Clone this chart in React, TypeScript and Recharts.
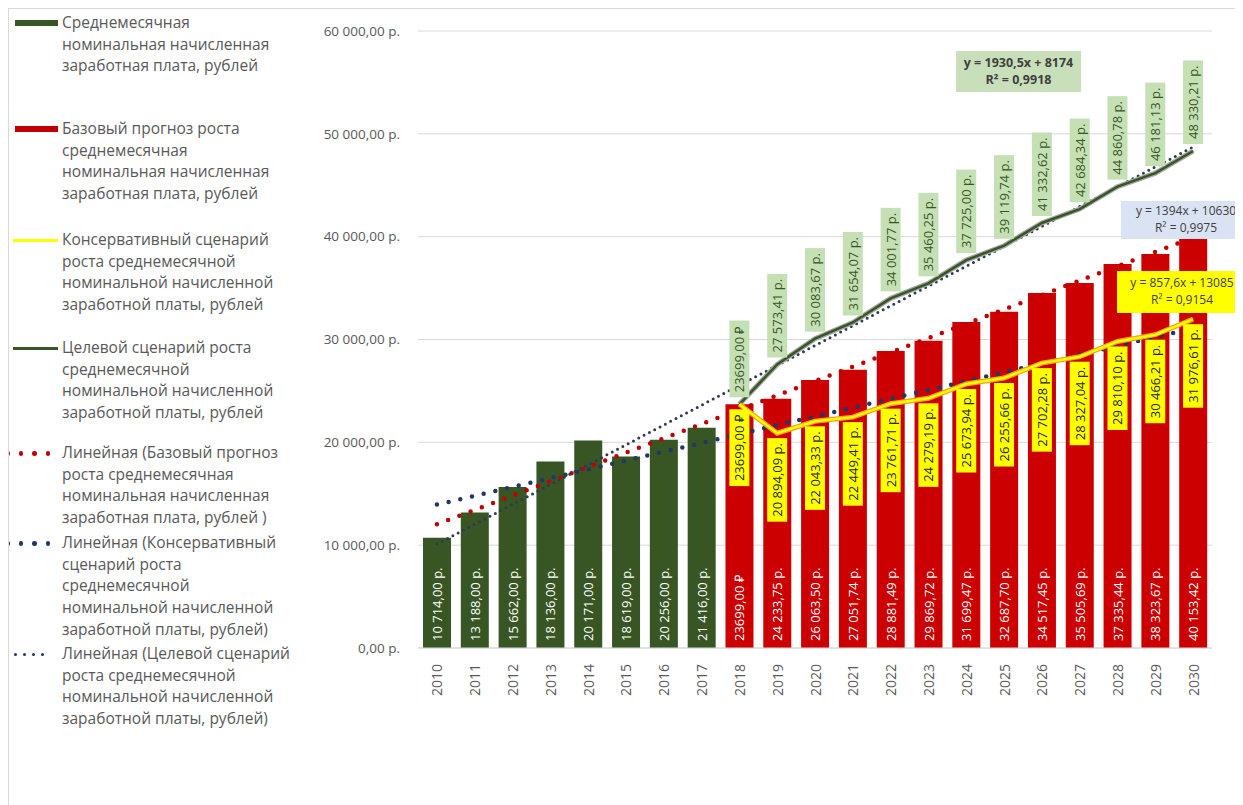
import { ComposedChart, Bar, Line, XAxis, YAxis, CartesianGrid, LabelList } from 'recharts';

const years = [
  '2010', '2011', '2012', '2013', '2014', '2015', '2016', '2017', '2018', '2019',
  '2020', '2021', '2022', '2023', '2024', '2025', '2026', '2027', '2028', '2029', '2030',
];

// 2010-2017, факт
const actualSalary = [10714, 13188, 15662, 18136, 20171, 18619, 20256, 21416];

// 2018-2030, прогнозы
const baseForecast = [
  23699, 24233.75, 26063.5, 27051.74, 28881.49, 29869.72, 31699.47,
  32687.7, 34517.45, 35505.69, 37335.44, 38323.67, 40153.42,
];
const conservativeScenario = [
  23699, 20894.09, 22043.33, 22449.41, 23761.71, 24279.19, 25673.94,
  26255.66, 27702.28, 28327.04, 29810.1, 30466.21, 31976.61,
];
const targetScenario = [
  23699, 27573.41, 30083.67, 31654.07, 34001.77, 35460.25, 37725.0,
  39119.74, 41332.62, 42684.34, 44860.78, 46181.13, 48330.21,
];

const yTicks = [0, 10000, 20000, 30000, 40000, 50000, 60000];

// коэффициенты линейных трендов (как подписаны на графике), x = 1..21
const baseTrend = { slope: 1394, intercept: 10630 };
const conservativeTrend = { slope: 857.6, intercept: 13085 };
const targetTrend = { slope: 1930.5, intercept: 8174 };

const FONT = '"Open Sans", sans-serif';
const GRAY = '#595959';
const firstForecast = actualSalary.length;

const trendAt = (t: { slope: number; intercept: number }, i: number) =>
  i === 0 || i === years.length - 1 ? t.slope * (i + 1) + t.intercept : null;

const data = years.map((year, i) => ({
  year,
  actual: i < firstForecast ? actualSalary[i] : null,
  base: i >= firstForecast ? baseForecast[i - firstForecast] : null,
  conservative: i >= firstForecast ? conservativeScenario[i - firstForecast] : null,
  target: i >= firstForecast ? targetScenario[i - firstForecast] : null,
  trendBase: trendAt(baseTrend, i),
  trendConservative: trendAt(conservativeTrend, i),
  trendTarget: trendAt(targetTrend, i),
}));

function rub(v: number): string {
  if (v === baseForecast[0]) return v.toFixed(2).replace('.', ',') + ' ₽';
  const [int, dec] = v.toFixed(2).split('.');
  return int.replace(/\B(?=(\d{3})+(?!\d))/g, ' ') + ',' + dec + ' р.';
}

let measureCtx: CanvasRenderingContext2D | null = null;
function textWidth(s: string, size: number): number {
  if (!measureCtx) measureCtx = document.createElement('canvas').getContext('2d');
  if (!measureCtx) return s.length * size * 0.55;
  measureCtx.font = `${size}px ${FONT}`;
  return measureCtx.measureText(s).width;
}

const BarValue = (props: any) => {
  const { x, y, width, height, value } = props;
  if (value == null || !height) return null;
  const cx = x + width / 2;
  const by = y + height - 7;
  return (
    <text x={cx} y={by} transform={`rotate(-90 ${cx} ${by})`} textAnchor="start"
      dominantBaseline="central" fill="#ffffff" fontSize={13} fontFamily={FONT}>
      {rub(value)}
    </text>
  );
};

const BoxValue = (fill: string, color: string, above: boolean) => (props: any) => {
  const { x, y, value } = props;
  if (value == null) return null;
  const s = rub(value);
  const h = textWidth(s, 13) + 10;
  const w = 20;
  const top = above ? y - 7 - h : y + 5;
  const cy = top + h / 2;
  return (
    <g>
      <rect x={x - w / 2} y={top} width={w} height={h} fill={fill} />
      <text x={x} y={cy} transform={`rotate(-90 ${x} ${cy})`} textAnchor="middle"
        dominantBaseline="central" fill={color} fontSize={13} fontFamily={FONT}>
        {s}
      </text>
    </g>
  );
};

const YearTick = (props: any) => {
  const { x, y, payload } = props;
  const ty = y + 14;
  return (
    <text x={x} y={ty} transform={`rotate(-90 ${x} ${ty})`} textAnchor="end"
      dominantBaseline="central" fill={GRAY} fontSize={14} fontFamily={FONT}>
      {payload.value}
    </text>
  );
};

const legendItems = [
  { top: 23, kind: 'rect', color: '#375623', lines: ['Среднемесячная', 'номинальная начисленная', 'заработная плата, рублей'] },
  { top: 129, kind: 'rect', color: '#C00000', lines: ['Базовый прогноз роста', 'среднемесячная', 'номинальная начисленная', 'заработная плата, рублей'] },
  { top: 240, kind: 'line', color: '#FFFF00', lines: ['Консервативный сценарий', 'роста среднемесячной', 'номинальной начисленной', 'заработной платы, рублей'] },
  { top: 348, kind: 'line', color: '#375623', lines: ['Целевой сценарий роста', 'среднемесячной', 'номинальной начисленной', 'заработной платы, рублей'] },
  { top: 453, kind: 'dots', color: '#C00000', lines: ['Линейная (Базовый прогноз', 'роста среднемесячная', 'номинальная начисленная', 'заработная плата, рублей )'] },
  { top: 543, kind: 'dots', color: '#1F3864', lines: ['Линейная (Консервативный', 'сценарий роста', 'среднемесячной', 'номинальной начисленной', 'заработной платы, рублей)'] },
  { top: 654, kind: 'smalldots', color: '#1F3864', lines: ['Линейная (Целевой сценарий', 'роста среднемесячной', 'номинальной начисленной', 'заработной платы, рублей)'] },
];

const LINE_H = 21.6;

function LegendMarker({ kind, color }: { kind: string; color: string }) {
  if (kind === 'rect') return <div style={{ position: 'absolute', left: 6, top: -3, width: 43, height: 6, background: color }} />;
  if (kind === 'line') return <div style={{ position: 'absolute', left: 4, top: -1.5, width: 45, height: 3, background: color }} />;
  const small = kind === 'smalldots';
  const n = small ? 5 : 4;
  return (
    <div style={{ position: 'absolute', left: -4, top: small ? -1.5 : -2, display: 'flex', gap: small ? 6 : 9 }}>
      {Array.from({ length: n }, (_, k) => (
        <span key={k} style={{ width: small ? 3 : 4.5, height: small ? 3 : 4.5, borderRadius: '50%', background: color, display: 'block' }} />
      ))}
    </div>
  );
}

const eqStyle = {
  position: 'absolute' as const,
  fontFamily: FONT,
  fontSize: 12,
  lineHeight: '17px',
  color: '#404040',
  textAlign: 'center' as const,
  boxSizing: 'border-box' as const,
  paddingTop: 3,
};

export default function App() {
  return (
    <div style={{ position: 'relative', width: 1231, height: 800, border: '1px solid #D9D9D9', boxSizing: 'border-box', overflow: 'hidden', background: '#fff' }}>
      <ComposedChart width={1229} height={798} data={data} margin={{ top: 22, right: 26, bottom: 99, left: 319 }}>
        <CartesianGrid vertical={false} stroke="#D9D9D9" />
        <XAxis dataKey="year" height={60} tick={<YearTick />} tickLine={false} tickSize={0} axisLine={{ stroke: '#D9D9D9' }} interval={0} />
        <YAxis width={90} domain={[0, 60000]} ticks={yTicks} tickLine={false} axisLine={false} tickSize={0} tickMargin={18}
          tickFormatter={(v: number) => (v === 0 ? '0,00 р.' : rub(v))}
          tick={{ fill: GRAY, fontSize: 13.5, fontFamily: FONT }} />
        <Bar dataKey="actual" stackId="s" fill="#375623" barSize={28} isAnimationActive={false}>
          <LabelList dataKey="actual" content={BarValue} />
        </Bar>
        <Bar dataKey="base" stackId="s" fill="#CC0000" barSize={28} isAnimationActive={false}>
          <LabelList dataKey="base" content={BarValue} />
        </Bar>
        <Line dataKey="trendBase" connectNulls stroke="#C00000" strokeWidth={4.5} strokeLinecap="round" strokeDasharray="0 12" dot={false} activeDot={false} isAnimationActive={false} />
        <Line dataKey="trendConservative" connectNulls stroke="#1F3864" strokeWidth={4.5} strokeLinecap="round" strokeDasharray="0 12" dot={false} activeDot={false} isAnimationActive={false} />
        <Line dataKey="trendTarget" connectNulls stroke="#2F3B52" strokeWidth={3} strokeLinecap="round" strokeDasharray="0 6" dot={false} activeDot={false} isAnimationActive={false} />
        <Line dataKey="target" stroke="#A6A6A6" strokeWidth={5} dot={false} activeDot={false} isAnimationActive={false} />
        <Line dataKey="target" stroke="#375623" strokeWidth={2.5} dot={false} activeDot={false} isAnimationActive={false}>
          <LabelList dataKey="target" content={BoxValue('#C5E0B4', '#375623', true)} />
        </Line>
        <Line dataKey="conservative" stroke="#F4A21E" strokeWidth={5} dot={false} activeDot={false} isAnimationActive={false} />
        <Line dataKey="conservative" stroke="#FFFF00" strokeWidth={2.5} dot={false} activeDot={false} isAnimationActive={false}>
          <LabelList dataKey="conservative" content={BoxValue('#FFFF00', '#262626', false)} />
        </Line>
      </ComposedChart>

      {legendItems.map((item, i) => (
        <div key={i} style={{ position: 'absolute', left: 0, top: item.top - 9 }}>
          <LegendMarker kind={item.kind} color={item.color} />
          <div style={{ position: 'absolute', left: 53, top: -LINE_H / 2, whiteSpace: 'nowrap', fontFamily: FONT, fontSize: 15.5, lineHeight: `${LINE_H}px`, color: GRAY }}>
            {item.lines.map((l, k) => <div key={k}>{l}</div>)}
          </div>
        </div>
      ))}

      <div style={{ ...eqStyle, left: 947, top: 42, width: 125, height: 41, background: '#C9DFBA', fontWeight: 700, fontSize: 12.5 }}>
        <div>y = 1930,5x + 8174</div>
        <div>R² = 0,9918</div>
      </div>
      <div style={{ ...eqStyle, left: 1112, top: 192, width: 130, height: 38, background: '#DAE3F3', paddingTop: 1 }}>
        <div>y = 1394x + 10630</div>
        <div>R² = 0,9975</div>
      </div>
      <div style={{ ...eqStyle, left: 1108, top: 262, width: 130, height: 42, background: '#FFFF00' }}>
        <div>y = 857,6x + 13085</div>
        <div>R² = 0,9154</div>
      </div>
    </div>
  );
}
